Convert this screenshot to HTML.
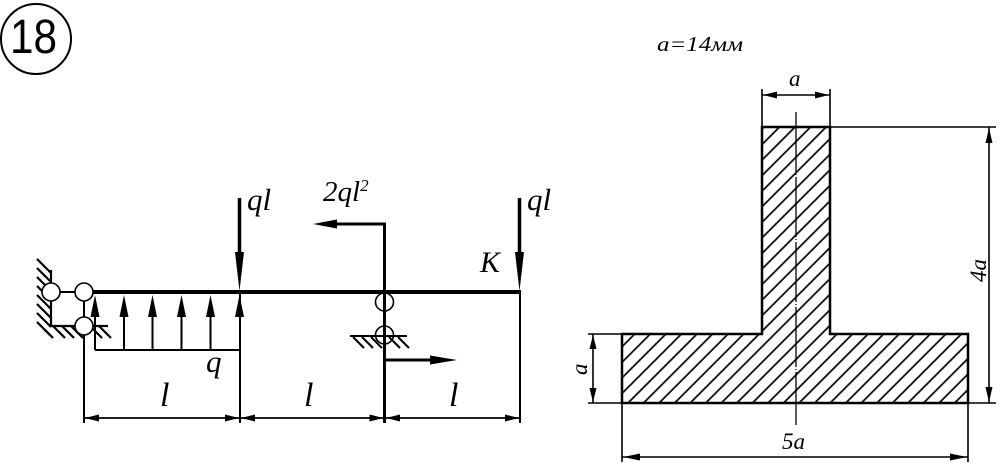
<!DOCTYPE html>
<html>
<head>
<meta charset="utf-8">
<style>
html,body{margin:0;padding:0;background:#fff;}
svg{display:block;}
text{font-family:"Liberation Serif",serif;font-style:italic;fill:#000;}
</style>
</head>
<body>
<svg width="1000" height="471" viewBox="0 0 1000 471" xmlns="http://www.w3.org/2000/svg">
<defs>
<pattern id="hatch" patternUnits="userSpaceOnUse" width="11" height="11" patternTransform="rotate(45)">
<line x1="3" y1="0" x2="3" y2="11" stroke="#000" stroke-width="1.7"/>
</pattern>
</defs>

<!-- 18 circle -->
<circle cx="36" cy="39" r="35" fill="none" stroke="#000" stroke-width="2"/>
<text x="10" y="53" style="font-family:'Liberation Sans',sans-serif;font-style:normal;font-size:48px" textLength="47" lengthAdjust="spacingAndGlyphs">18</text>

<!-- ===== Beam scheme ===== -->
<!-- left wall + hatching -->
<g stroke="#000" stroke-width="2.2" fill="none">
<line x1="51" y1="270" x2="51" y2="326"/>
<line x1="51" y1="326" x2="108" y2="326"/>
<line x1="37" y1="259" x2="51" y2="273"/>
<line x1="37" y1="268" x2="51" y2="282"/>
<line x1="37" y1="277" x2="51" y2="291"/>
<line x1="37" y1="286" x2="51" y2="300"/>
<line x1="37" y1="295" x2="51" y2="309"/>
<line x1="37" y1="304" x2="51" y2="318"/>
<line x1="37" y1="313" x2="51" y2="327"/>
<line x1="37" y1="322" x2="50" y2="335"/>
<line x1="44" y1="329" x2="53" y2="338"/>
<line x1="53" y1="326" x2="65" y2="338"/>
<line x1="62" y1="326" x2="74" y2="338"/>
<line x1="71" y1="326" x2="83" y2="338"/>
<line x1="90" y1="326" x2="102" y2="338"/>
<line x1="99" y1="326" x2="111" y2="338"/>
</g>
<!-- left support links -->
<line x1="51" y1="292" x2="84" y2="292" stroke="#000" stroke-width="2"/>
<line x1="84" y1="292" x2="84" y2="423" stroke="#000" stroke-width="2"/>
<circle cx="51" cy="292" r="9" fill="#fff" stroke="#000" stroke-width="1.6"/>
<circle cx="84" cy="292" r="9" fill="#fff" stroke="#000" stroke-width="1.6"/>
<circle cx="84" cy="326" r="9" fill="#fff" stroke="#000" stroke-width="1.6"/>

<!-- beam -->
<line x1="93" y1="292" x2="521" y2="292" stroke="#000" stroke-width="4"/>

<!-- distributed load -->
<g stroke="#000" stroke-width="2">
<line x1="95" y1="350" x2="240" y2="350"/>
<line x1="95" y1="350" x2="95" y2="312"/>
<line x1="124" y1="350" x2="124" y2="312"/>
<line x1="152.5" y1="350" x2="152.5" y2="312"/>
<line x1="181.5" y1="350" x2="181.5" y2="312"/>
<line x1="210.5" y1="350" x2="210.5" y2="312"/>
</g>
<g fill="#000">
<polygon points="95,295 90.5,317 99.5,317"/>
<polygon points="124,295 119.5,317 128.5,317"/>
<polygon points="152.5,295 148,317 157,317"/>
<polygon points="181.5,295 177,317 186,317"/>
<polygon points="210.5,295 206,317 215,317"/>
<polygon points="239.5,295 235,317 244,317"/>
</g>
<text x="206" y="372" style="font-size:31px">q</text>

<!-- ql left -->
<line x1="239.5" y1="198" x2="239.5" y2="256" stroke="#000" stroke-width="3.5"/>
<polygon points="239.5,291 235,252 244,252" fill="#000"/>
<line x1="240" y1="292" x2="240" y2="423" stroke="#000" stroke-width="2"/>
<text x="247" y="210" style="font-size:31px">ql</text>

<!-- ql right -->
<line x1="519.5" y1="198" x2="519.5" y2="256" stroke="#000" stroke-width="3.5"/>
<polygon points="519.5,291 515,252 524,252" fill="#000"/>
<line x1="520" y1="292" x2="520" y2="423" stroke="#000" stroke-width="2"/>
<text x="527" y="210" style="font-size:31px">ql</text>
<text x="480" y="272" style="font-size:30px">K</text>

<!-- moment 2ql^2 -->
<line x1="384.5" y1="222.5" x2="384.5" y2="423" stroke="#000" stroke-width="3"/>
<line x1="386" y1="224" x2="335" y2="224" stroke="#000" stroke-width="3"/>
<polygon points="313,224 337,219.5 337,228.5" fill="#000"/>
<text x="323" y="201" style="font-size:29px">2ql<tspan style="font-size:17px" dy="-10">2</tspan></text>

<!-- middle support -->
<circle cx="384.5" cy="302" r="9" fill="none" stroke="#000" stroke-width="1.6"/>
<circle cx="384.5" cy="335" r="9" fill="none" stroke="#000" stroke-width="1.6"/>
<line x1="350" y1="336" x2="407" y2="336" stroke="#000" stroke-width="2"/>
<g stroke="#000" stroke-width="2">
<line x1="353" y1="337" x2="364" y2="348"/>
<line x1="362" y1="337" x2="373" y2="348"/>
<line x1="371" y1="337" x2="382" y2="348"/>
<line x1="389" y1="337" x2="400" y2="348"/>
<line x1="398" y1="337" x2="409" y2="348"/>
</g>
<line x1="384.5" y1="360" x2="432" y2="360" stroke="#000" stroke-width="3"/>
<polygon points="457,360 430,355.5 430,364.5" fill="#000"/>

<!-- dimension line -->
<line x1="84" y1="418" x2="520" y2="418" stroke="#000" stroke-width="1.8"/>
<g fill="#000">
<polygon points="85,418 99,414.5 99,421.5"/>
<polygon points="239,418 225,414.5 225,421.5"/>
<polygon points="241,418 255,414.5 255,421.5"/>
<polygon points="383.5,418 369.5,414.5 369.5,421.5"/>
<polygon points="386,418 400,414.5 400,421.5"/>
<polygon points="519,418 505,414.5 505,421.5"/>
</g>
<text x="160" y="406" style="font-size:34px">l</text>
<text x="304" y="406" style="font-size:34px">l</text>
<text x="449" y="406" style="font-size:34px">l</text>

<!-- ===== Cross-section ===== -->
<text x="657" y="51" style="font-size:21px" textLength="86" lengthAdjust="spacingAndGlyphs">a=14мм</text>

<polygon points="762,127 830,127 830,334 968,334 968,403 622,403 622,334 762,334" fill="url(#hatch)" stroke="#000" stroke-width="2.5"/>

<!-- centerline -->
<line x1="796" y1="112" x2="796" y2="425" stroke="#000" stroke-width="1.3" stroke-dasharray="60 2 1 2"/>

<!-- top dim a -->
<g stroke="#000" stroke-width="1.6">
<line x1="762" y1="89" x2="762" y2="127"/>
<line x1="830" y1="89" x2="830" y2="127"/>
<line x1="762" y1="95" x2="830" y2="95"/>
</g>
<polygon points="763,95 777,91.5 777,98.5" fill="#000"/>
<polygon points="829,95 815,91.5 815,98.5" fill="#000"/>
<text x="789" y="86" style="font-size:23px">a</text>

<!-- right dim 4a -->
<g stroke="#000" stroke-width="1.6">
<line x1="830" y1="127" x2="996" y2="127"/>
<line x1="588" y1="403" x2="996" y2="403"/>
<line x1="989" y1="127" x2="989" y2="403"/>
</g>
<polygon points="989,128 985.5,143 992.5,143" fill="#000"/>
<polygon points="989,402 985.5,387 992.5,387" fill="#000"/>
<text transform="translate(986,282) rotate(-90)" style="font-size:23px">4a</text>

<!-- left dim a -->
<g stroke="#000" stroke-width="1.6">
<line x1="588" y1="334" x2="622" y2="334"/>
<line x1="593" y1="334" x2="593" y2="403"/>
</g>
<polygon points="593,335 589.5,349 596.5,349" fill="#000"/>
<polygon points="593,402 589.5,388 596.5,388" fill="#000"/>
<text transform="translate(587,375) rotate(-90)" style="font-size:23px">a</text>

<!-- bottom dim 5a -->
<g stroke="#000" stroke-width="1.6">
<line x1="622" y1="403" x2="622" y2="462"/>
<line x1="968" y1="403" x2="968" y2="462"/>
<line x1="622" y1="457" x2="968" y2="457"/>
</g>
<polygon points="623,457 640,453.5 640,460.5" fill="#000"/>
<polygon points="967,457 950,453.5 950,460.5" fill="#000"/>
<text x="782" y="449" style="font-size:23px">5a</text>
</svg>
</body>
</html>
